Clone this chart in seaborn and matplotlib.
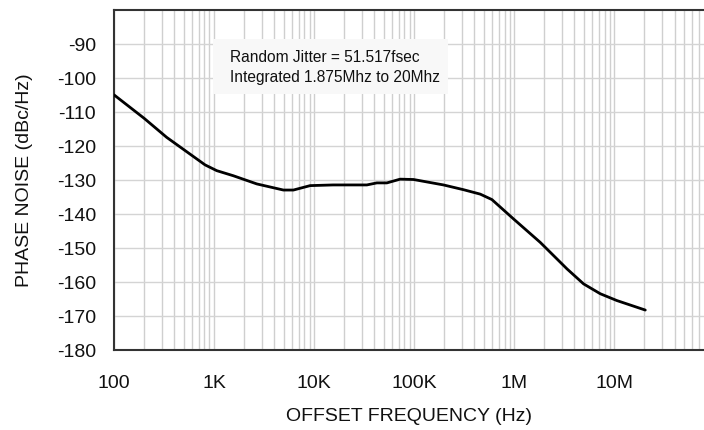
import numpy as np
import pandas as pd
import matplotlib
matplotlib.use("Agg")
import matplotlib.pyplot as plt
import matplotlib.ticker as mticker
from matplotlib.patches import Rectangle
import seaborn as sns

# ---- data ----
freq_hz = [100, 200, 336, 813, 1064, 1560, 2673, 4932, 6209, 9120, 15490,
           33650, 42360, 53330, 72440, 98400, 196300, 311200, 457000, 598000,
           984000, 1.82e6, 3.37e6, 4.93e6, 7.24e6, 1.06e7, 2.04e7]
phase_noise_dbc = [-105.1, -112.0, -117.6, -125.7, -127.4, -128.9, -131.3, -133.1,
                   -133.1, -131.8, -131.6, -131.6, -131.0, -131.0, -129.9, -130.0,
                   -131.6, -133.0, -134.3, -135.9, -141.6, -148.5, -156.3, -160.7,
                   -163.6, -165.6, -168.4]
x_tick_values = [1e2, 1e3, 1e4, 1e5, 1e6, 1e7]
x_tick_labels = ["100", "1K", "10K", "100K", "1M", "10M"]
y_tick_values = [-90, -100, -110, -120, -130, -140, -150, -160, -170, -180]
note_lines = ["Random Jitter = 51.517fsec", "Integrated 1.875Mhz to 20Mhz"]

df = pd.DataFrame({"freq": freq_hz, "pn": phase_noise_dbc})

sns.set_style("white")
plt.rcParams["font.family"] = ["Liberation Sans", "DejaVu Sans"]
plt.rcParams["text.color"] = "#111111"

fig = plt.figure(figsize=(7.04, 4.31), dpi=100)
ax = fig.add_axes([114 / 704, 1 - 350.5 / 431, 1 - 114 / 704, 340 / 431])

sns.lineplot(data=df, x="freq", y="pn", ax=ax, color="black", linewidth=2.0,
             estimator=None, sort=False, zorder=4)

ax.set_xscale("log")
ax.set_xlim(100, 10 ** (2 + 590 / 100.06))
ax.set_ylim(-180, -80)

ax.xaxis.set_major_locator(mticker.FixedLocator(x_tick_values))
ax.xaxis.set_major_formatter(mticker.FixedFormatter(x_tick_labels))
ax.xaxis.set_minor_locator(mticker.LogLocator(base=10, subs=np.arange(2, 10), numticks=20))
ax.xaxis.set_minor_formatter(mticker.NullFormatter())
ax.yaxis.set_major_locator(mticker.FixedLocator(y_tick_values))
ax.yaxis.set_major_formatter(mticker.FormatStrFormatter("%d"))

ax.grid(True, which="both", axis="x", color="#cfcfcf", linewidth=1.0, zorder=0)
ax.grid(True, which="major", axis="y", color="#d4d4d4", linewidth=1.0, zorder=0)
ax.set_axisbelow(True)

ax.tick_params(axis="x", which="both", length=0, pad=18, labelsize=14, labelcolor="#111111")
ax.tick_params(axis="y", which="major", length=5, width=1.0, color="#cccccc", pad=8,
               labelsize=14, labelcolor="#111111")

for side in ["left", "bottom", "top"]:
    ax.spines[side].set_visible(True)
    ax.spines[side].set_color("#333333")
    ax.spines[side].set_linewidth(1.5)
ax.spines["right"].set_visible(False)

ax.set_xlabel("OFFSET FREQUENCY (Hz)", fontsize=14, labelpad=11, color="#111111")
ax.set_ylabel("PHASE NOISE (dBc/Hz)", fontsize=14, labelpad=17, color="#111111")

# annotation box
ax.add_patch(Rectangle((99 / 590, 1 - 84.5 / 340), 235 / 590, 55 / 340,
                       transform=ax.transAxes, facecolor="#f8f8f8", edgecolor="none", zorder=2))
ax.text(116 / 590, 1 - 57 / 340, "\n".join(note_lines), transform=ax.transAxes,
        ha="left", va="center", fontsize=11.2, linespacing=1.45, color="#111111", zorder=3)

fig.savefig("out.png", dpi=100)
